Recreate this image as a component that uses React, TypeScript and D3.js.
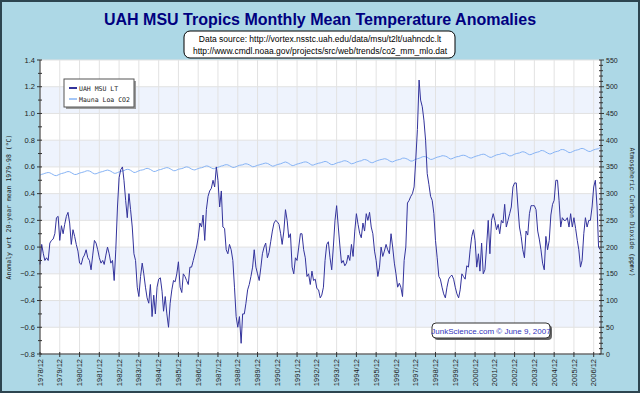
import React from 'react';
import * as d3 from 'd3';

// UAH MSU LT tropics anomaly (°C), monthly from 1978/12
const uahLT = [
  -0.13, 0.02, -0.05, -0.10, -0.08, -0.10, 0.03, 0.05, 0.06, 0.10, 0.22, 0.23,
  0.05, 0.16, 0.10, 0.17, 0.23, 0.26, 0.18, 0.02, 0.13, 0.08, 0.02, -0.03,
  -0.12, -0.13, -0.08, -0.06, -0.02, -0.08, -0.10, -0.17, -0.06, 0.05, 0.03, -0.02,
  -0.08, -0.12, -0.10, -0.13, -0.06, 0.00, -0.05, -0.12, -0.10, -0.25, -0.02, 0.30,
  0.52, 0.58, 0.60, 0.50, 0.35, 0.22, 0.40, 0.28, 0.15, -0.05, -0.10, -0.30,
  -0.37, -0.22, -0.12, -0.20, -0.30, -0.38, -0.42, -0.28, -0.52, -0.36, -0.50, -0.30,
  -0.24, -0.23, -0.33, -0.48, -0.37, -0.50, -0.60, -0.42, -0.32, -0.25, -0.26, -0.20,
  -0.11, -0.30, -0.34, -0.20, -0.22, -0.25, -0.28, -0.15, -0.15, -0.10, -0.05, 0.00,
  0.07, 0.18, 0.15, 0.24, 0.05, 0.28, 0.38, 0.42, 0.44, 0.50, 0.45, 0.60,
  0.50, 0.30, 0.42, 0.15, 0.14, -0.02, -0.05, 0.02, -0.02, -0.10, -0.30, -0.52,
  -0.60, -0.52, -0.72, -0.50, -0.50, -0.42, -0.32, -0.28, -0.22, -0.15, -0.02, -0.15,
  -0.20, -0.25, -0.15, -0.05, 0.00, 0.03, -0.08, -0.04, 0.04, 0.12, 0.18, 0.20,
  0.19, 0.17, 0.10, 0.02, 0.12, 0.28, 0.20, 0.07, 0.10, -0.15, -0.20, -0.08,
  -0.10, 0.00, 0.10, 0.10, -0.02, -0.08, -0.22, -0.20, -0.28, -0.18, -0.25, -0.24,
  -0.31, -0.32, -0.38, -0.36, -0.30, -0.10, 0.02, 0.04, -0.08, -0.17, 0.00, 0.20,
  0.31, 0.15, 0.00, -0.12, -0.10, -0.14, -0.12, -0.06, -0.10, 0.02, -0.07, 0.12,
  0.25, 0.17, 0.10, 0.07, 0.18, 0.12, 0.25, 0.20, 0.26, 0.15, 0.10, -0.03,
  -0.10, -0.22, -0.15, 0.00, -0.07, -0.03, 0.02, -0.02, -0.05, 0.10, 0.00, -0.12,
  -0.20, -0.30, -0.27, -0.30, -0.37, -0.10, 0.00, 0.33, 0.35, 0.38, 0.40, 0.45,
  0.65, 0.88, 1.25, 1.10, 1.05, 0.95, 0.80, 0.55, 0.47, 0.38, 0.35, 0.25,
  0.05, -0.08, -0.22, -0.24, -0.30, -0.35, -0.38, -0.30, -0.24, -0.22, -0.21, -0.24,
  -0.30, -0.35, -0.38, -0.32, -0.20, -0.22, -0.24, -0.14, -0.15, -0.02, 0.08, 0.13,
  0.05, -0.15, -0.05, -0.18, 0.03, -0.20, -0.17, 0.00, 0.20, -0.05, 0.20, 0.25,
  0.20, 0.13, 0.17, 0.10, 0.20, 0.18, 0.32, 0.15, 0.20, 0.25, 0.30, 0.45,
  0.48, 0.48, 0.30, 0.15, 0.08, -0.02, -0.08, 0.12, 0.09, 0.25, 0.31, 0.31,
  0.31, 0.28, 0.12, 0.06, -0.02, -0.12, -0.17, 0.08, -0.02, 0.05, 0.24, 0.32,
  0.35, 0.50, 0.50, 0.35, 0.15, 0.22, 0.20, 0.20, 0.22, 0.15, 0.25, 0.15,
  0.22, 0.14, 0.05, -0.02, -0.15, -0.10, 0.10, 0.22, 0.15, 0.20, 0.20, 0.30,
  0.45, 0.50, 0.30, 0.00, -0.02,
];

// Mauna Loa CO2 (ppmv), monthly from 1978/12
const maunaLoaCO2 = [
  334.6,
  336.1, 336.9, 338.0, 338.9, 339.5, 339.0, 337.4, 335.6, 333.9, 333.7, 335.0, 336.4,
  337.6, 338.3, 339.2, 340.5, 341.3, 340.9, 339.3, 337.3, 335.8, 335.9, 337.1, 338.4,
  339.3, 340.1, 341.0, 342.4, 342.9, 342.3, 340.8, 338.6, 337.1, 337.1, 338.4, 339.6,
  340.6, 341.3, 342.4, 343.4, 344.1, 343.3, 341.9, 339.9, 338.1, 338.1, 339.4, 340.6,
  341.6, 342.4, 343.0, 344.8, 345.5, 345.1, 343.6, 341.6, 339.6, 339.8, 341.3, 342.6,
  343.8, 344.3, 345.0, 346.6, 347.3, 346.6, 345.2, 343.2, 341.4, 341.6, 343.0, 344.4,
  345.0, 345.9, 347.0, 348.0, 348.7, 348.1, 346.6, 344.7, 343.0, 342.9, 344.2, 345.6,
  346.3, 346.9, 347.8, 349.4, 350.1, 349.4, 347.9, 345.9, 344.8, 344.3, 345.7, 346.9,
  348.0, 348.5, 349.4, 350.9, 351.8, 351.4, 349.9, 348.1, 346.6, 346.8, 348.1, 349.4,
  350.4, 351.7, 352.2, 353.6, 354.2, 353.8, 352.3, 350.5, 349.0, 349.2, 350.4, 351.8,
  353.0, 353.5, 354.0, 355.4, 355.9, 355.2, 353.9, 352.0, 350.3, 350.6, 351.8, 353.0,
  353.8, 354.8, 355.5, 356.5, 357.2, 356.5, 355.1, 353.0, 351.4, 351.7, 353.1, 354.3,
  355.1, 355.9, 357.0, 358.4, 359.2, 358.1, 356.5, 354.3, 352.5, 352.7, 354.1, 355.3,
  356.1, 357.0, 357.8, 358.9, 359.4, 358.9, 357.3, 355.2, 353.3, 353.6, 354.9, 355.9,
  356.9, 357.5, 358.3, 359.4, 360.3, 359.6, 357.9, 355.6, 354.3, 354.5, 355.9, 357.1,
  358.3, 358.9, 359.8, 361.1, 361.6, 360.9, 359.6, 357.5, 355.9, 356.4, 357.6, 359.1,
  360.0, 361.0, 361.4, 363.2, 363.8, 363.2, 361.8, 359.5, 358.1, 357.9, 359.6, 360.9,
  362.1, 363.0, 363.8, 364.4, 365.3, 364.8, 363.5, 361.5, 359.9, 359.4, 360.8, 362.3,
  363.1, 363.8, 364.6, 366.3, 366.5, 365.7, 364.5, 362.6, 360.9, 361.1, 362.7, 364.2,
  365.3, 366.1, 367.3, 368.8, 369.4, 369.0, 367.9, 365.8, 364.0, 364.2, 365.5, 367.0,
  368.2, 368.9, 369.6, 370.9, 370.8, 370.1, 369.0, 366.8, 364.9, 365.3, 366.8, 368.0,
  369.1, 369.4, 370.5, 371.6, 371.8, 371.3, 369.8, 368.0, 366.7, 366.7, 368.2, 369.4,
  370.5, 371.2, 372.3, 373.3, 373.8, 373.2, 371.4, 369.5, 368.0, 368.0, 369.6, 371.1,
  372.4, 373.1, 373.5, 374.9, 375.6, 375.4, 374.0, 371.9, 370.6, 370.8, 372.3, 373.8,
  374.9, 375.6, 376.1, 377.6, 378.4, 377.7, 376.3, 374.3, 372.9, 373.1, 374.7, 375.9,
  377.0, 377.8, 378.5, 380.6, 380.5, 379.6, 377.7, 375.9, 374.4, 374.4, 375.9, 377.5,
  378.5, 379.2, 380.0, 382.2, 382.5, 382.1, 380.6, 378.7, 376.8, 377.0, 378.4, 379.9,
  381.1, 381.8, 382.5, 384.1, 384.6, 383.9, 382.3, 380.4, 379.0, 378.9, 380.6, 381.9,
  382.9, 383.6, 384.2, 386.4,
];

const yearTicks = d3.range(1978, 2007);
const leftTicks = [-0.8, -0.6, -0.4, -0.2, 0.0, 0.2, 0.4, 0.6, 0.8, 1.0, 1.2, 1.4];
const rightTicks = d3.range(0, 551, 50);

const W = 640;
const H = 393;
const L = 40, R = 601, T = 60, B = 354;

const App: React.FC = () => {
  const start = new Date(1978, 11, 1);
  const x = d3.scaleTime()
    .domain([start, new Date(2007, 3, 15)])
    .range([L, R]);
  const yL = d3.scaleLinear().domain([-0.8, 1.4]).range([B, T]);
  const yR = d3.scaleLinear().domain([0, 550]).range([B, T]);

  const month = (i: number) => d3.timeMonth.offset(start, i);

  const uahLine = d3.line<number>()
    .x((_, i) => x(month(i)))
    .y(d => yL(d));
  const co2Line = d3.line<number>()
    .x((_, i) => x(month(i)))
    .y(d => yR(d));

  const minorLeft = d3.range(-0.8, 1.41, 0.1);
  const minorRight = d3.range(0, 551, 10);
  const mono = '"DejaVu Sans Mono", monospace';
  const sans = '"Liberation Sans", Arial, sans-serif';

  return (
    <svg width={W} height={H} style={{ position: 'absolute', left: 0, top: 0 }}>
      <rect x={1} y={1} width={W - 2} height={H - 2} fill="#add8e6" stroke="#2d4550" strokeWidth={2} />

      <text x={320} y={25} textAnchor="middle" fontFamily={sans} fontWeight="bold" fontSize={16} fill="#000080">
        UAH MSU Tropics Monthly Mean Temperature Anomalies
      </text>

      <rect x={184} y={31} width={271} height={27} rx={6} fill="#fff" stroke="#000" strokeWidth={1} />
      <text x={320} y={42} textAnchor="middle" fontFamily={sans} fontSize={8.5} fill="#000">
        Data source: http://vortex.nsstc.uah.edu/data/msu/t2lt/uahncdc.lt
      </text>
      <text x={320} y={54} textAnchor="middle" fontFamily={sans} fontSize={8.5} fill="#000">
        http://www.cmdl.noaa.gov/projects/src/web/trends/co2_mm_mlo.dat
      </text>

      {/* plot area */}
      <rect x={L} y={T} width={R - L} height={B - T} fill="#fff" />
      {leftTicks.slice(0, -1).map((t, i) => i % 2 === 1 ? (
        <rect key={'b' + i} x={L} y={yL(leftTicks[i + 1])} width={R - L}
          height={yL(t) - yL(leftTicks[i + 1])} fill="#eef3fd" />
      ) : null)}
      {leftTicks.map(t => (
        <line key={'h' + t} x1={L} x2={R} y1={yL(t)} y2={yL(t)} stroke="#e2e2e2" />
      ))}
      {yearTicks.map(yr => (
        <line key={'v' + yr} x1={x(new Date(yr, 11, 1))} x2={x(new Date(yr, 11, 1))} y1={T} y2={B} stroke="#e2e2e2" />
      ))}

      <path d={co2Line(maunaLoaCO2) || ''} fill="none" stroke="#86b3f5" strokeWidth={1} />
      <path d={uahLine(uahLT) || ''} fill="none" stroke="#33339c" strokeWidth={1} />

      {/* axes */}
      <line x1={L} x2={L} y1={T} y2={B} stroke="#333" />
      <line x1={R} x2={R} y1={T} y2={B} stroke="#333" />
      <line x1={L} x2={R} y1={B} y2={B} stroke="#333" />
      {minorLeft.map((t, i) => (
        <line key={'ml' + i} x1={L - (i % 2 === 0 ? 3 : 2)} x2={L + 2} y1={yL(t)} y2={yL(t)} stroke="#333" />
      ))}
      {leftTicks.map(t => (
        <text key={'lt' + t} x={35} y={yL(t) + 2.5} textAnchor="end" fontFamily={sans} fontSize={7.5} fill="#222">
          {t.toFixed(1).replace('-', '\u2212')}
        </text>
      ))}
      {minorRight.map((t, i) => (
        <line key={'mr' + i} x1={R - 2} x2={R + (t % 50 === 0 ? 3 : 2)} y1={yR(t)} y2={yR(t)} stroke="#333" />
      ))}
      {rightTicks.map(t => (
        <text key={'rt' + t} x={606} y={yR(t) + 2.5} textAnchor="start" fontFamily={sans} fontSize={7} fill="#222">
          {t}
        </text>
      ))}
      {yearTicks.map(yr => {
        const xx = x(new Date(yr, 11, 1));
        return (
          <g key={'xt' + yr}>
            <line x1={xx} x2={xx} y1={B - 2} y2={B + 3} stroke="#333" />
            <text transform={`translate(${xx + 2.6},${B + 5}) rotate(-90)`} textAnchor="end"
              fontFamily={sans} fontSize={7.5} fill="#222">
              {yr}/12
            </text>
          </g>
        );
      })}

      <text transform={`translate(11,${(T + B) / 2}) rotate(-90)`} textAnchor="middle" fontFamily={mono} fontSize={6.5} fill="#222">
        Anomaly wrt 20-year mean 1979-98 (°C)
      </text>
      <text transform={`translate(630,${(T + B) / 2 + 5}) rotate(90)`} textAnchor="middle" fontFamily={mono} fontSize={6.5} fill="#222">
        Atmospheric Carbon Dioxide (ppmv)
      </text>

      {/* legend */}
      <rect x={66} y={81} width={70} height={28} fill="#9a9a9a" />
      <rect x={64} y={79} width={70} height={28} fill="#fff" stroke="#555" />
      <line x1={69} x2={77} y1={88} y2={88} stroke="#33339c" strokeWidth={2} />
      <text x={79} y={90.5} fontFamily={mono} fontSize={6.5} fill="#222">UAH MSU LT</text>
      <line x1={69} x2={77} y1={99} y2={99} stroke="#86b3f5" strokeWidth={1.5} />
      <text x={79} y={101.5} fontFamily={mono} fontSize={6.5} fill="#222">Mauna Loa CO2</text>

      {/* credit */}
      <rect x={434} y={325} width={118} height={15} rx={4} fill="#666" />
      <rect x={432} y={323} width={118} height={15} rx={4} fill="#fff" stroke="#333" />
      <text x={491} y={333.5} textAnchor="middle" fontFamily={sans} fontSize={8} fill="#3333bb">
        JunkScience.com © June 9, 2007
      </text>
    </svg>
  );
};

export default App;
